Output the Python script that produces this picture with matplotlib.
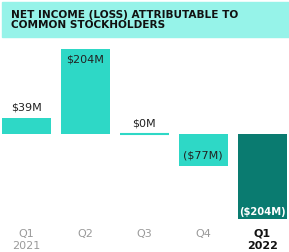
import matplotlib
matplotlib.use("Agg")
from matplotlib import pyplot as plt
from matplotlib.patches import Rectangle

quarters = ['Q1', 'Q2', 'Q3', 'Q4', 'Q1']
years = ['2021', '', '', '', '2022']
net_income = [39, 204, 0.4, -77, -204]
value_labels = ['$39M', '$204M', '$0M', '($77M)', '($204M)']

teal = '#2ED8C6'
dark_teal = '#0A7B70'
banner = '#96F3E9'

fig = plt.figure(figsize=(2.89, 2.52), dpi=100)
ax = fig.add_axes([0, 0, 1, 1])
ax.axis('off')

# map: 0 at pixel 134 from top, 204 -> 85 px
px = 204 / 85
ax.set_xlim(-0.45, 4.457)
ax.set_ylim(-118 * px, 134 * px)

colors = [teal, teal, teal, teal, dark_teal]
x = list(range(len(net_income)))
ax.bar(x, net_income, width=0.83, color=colors, edgecolor=colors,
       linewidth=[0, 0, 1.5, 0, 0])

font = 'DejaVu Sans'
for i, (v, lab) in enumerate(zip(net_income, value_labels)):
    if i == 0:
        ax.text(i, v + 10 * px, lab, ha='center', va='center', fontsize=8, family=font, color='#222222')
    elif i == 1:
        ax.text(i, v - 10 * px, lab, ha='center', va='center', fontsize=8, family=font, color='#222222')
    elif i == 2:
        ax.text(i, 11 * px, lab, ha='center', va='center', fontsize=8, family=font, color='#222222')
    elif i == 3:
        ax.text(i, -22 * px, lab, ha='center', va='center', fontsize=8, family=font, color='#222222')
    else:
        ax.text(i, -78 * px, lab, ha='center', va='center', fontsize=7.2, family=font,
                color='white', fontweight='bold')

for i, (q, yr) in enumerate(zip(quarters, years)):
    last = i == len(quarters) - 1
    c = '#111111' if last else '#9a9a9a'
    w = 'bold' if last else 'normal'
    ax.text(i, -(233.5 - 134) * px, q, ha='center', va='center',
            fontsize=8, family=font, color=c, fontweight=w)
    if yr:
        ax.text(i, -(246 - 134) * px, yr, ha='center', va='center',
                fontsize=8, family=font, color=c, fontweight=w)

fig.patches.append(Rectangle((2 / 289, 1 - 37 / 252), 287 / 289, 35 / 252,
                             transform=fig.transFigure, color=banner, zorder=0))
fig.text(11 / 289, 1 - 15 / 252, 'NET INCOME (LOSS) ATTRIBUTABLE TO', ha='left', va='center',
         fontsize=7.6, fontweight='bold', family=font, color='#111111')
fig.text(11 / 289, 1 - 25.5 / 252, 'COMMON STOCKHOLDERS', ha='left', va='center',
         fontsize=7.6, fontweight='bold', family=font, color='#111111')

plt.savefig('out.png', dpi=100)
plt.close()
